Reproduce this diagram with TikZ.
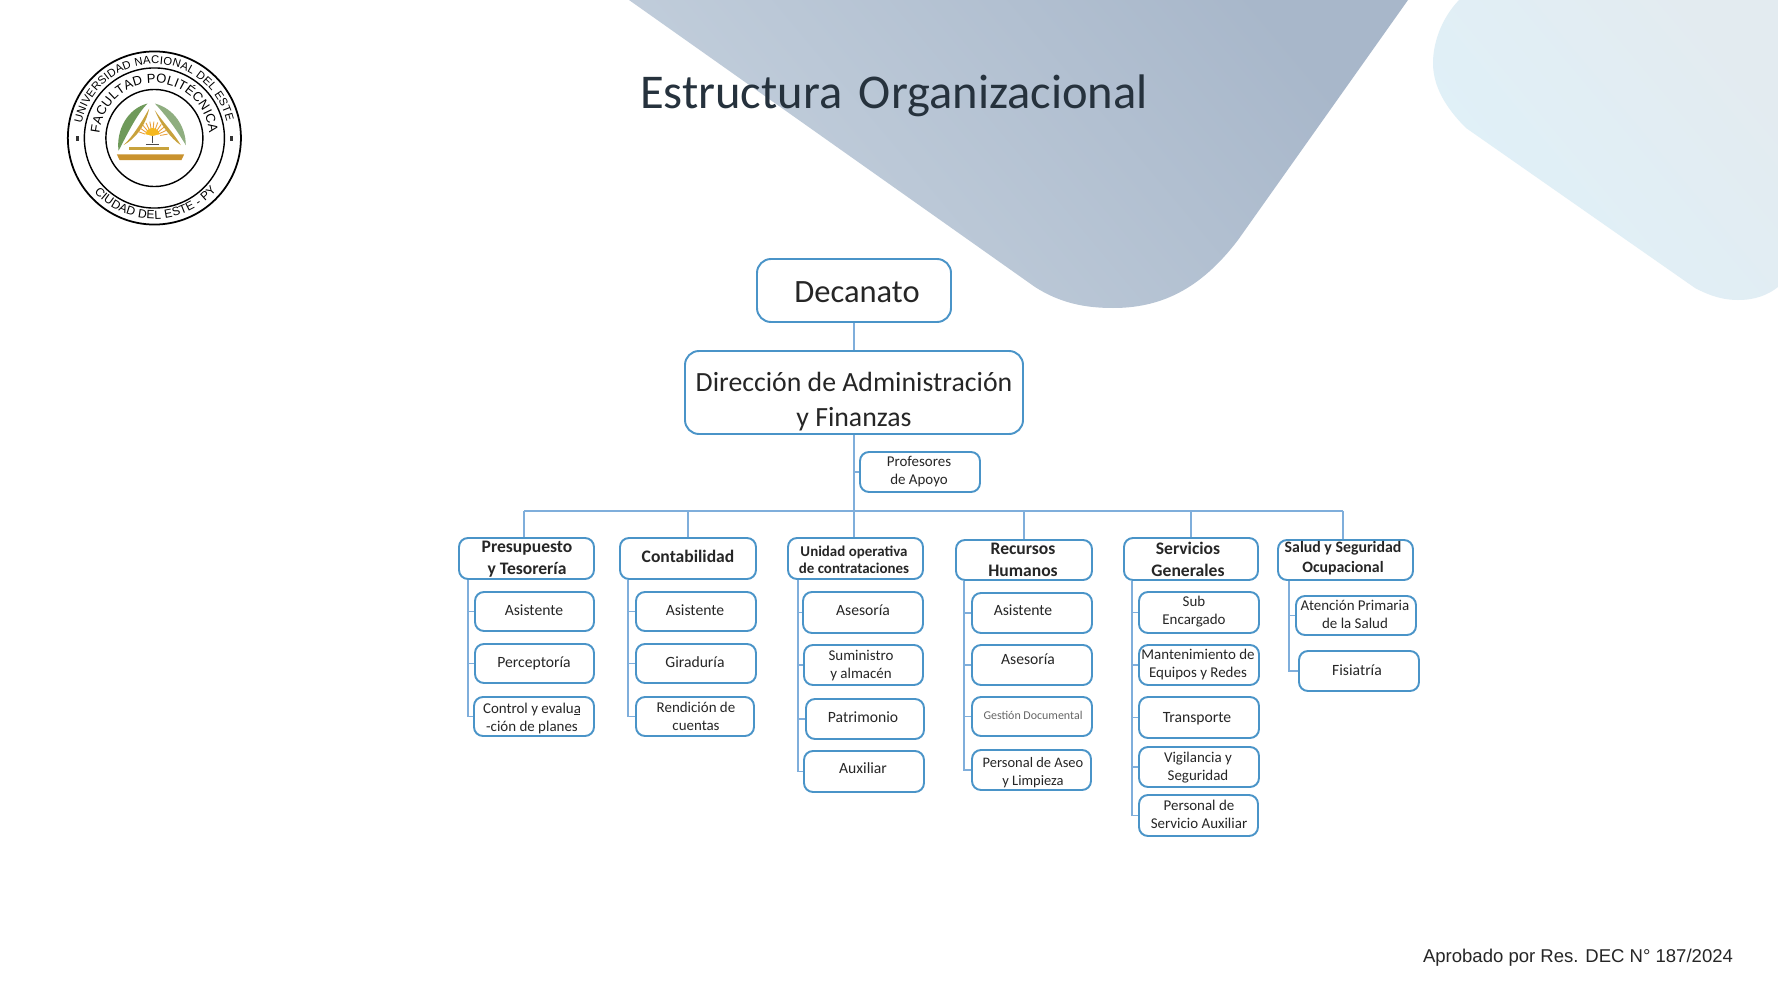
\documentclass[tikz,border=0pt]{standalone}
\usepackage{fontspec}
\setmainfont{Carlito}
\newfontfamily\arialf{Liberation Sans}
\usetikzlibrary{calc,decorations.text}
\definecolor{bord}{HTML}{4A94C8}
\definecolor{conn}{HTML}{7FAEDB}
\definecolor{ink}{HTML}{262626}
\definecolor{BGA}{HTML}{A8B7CA}
\definecolor{BGB}{HTML}{C4D0DD}
\definecolor{LBA}{HTML}{E3EBF0}
\definecolor{LBB}{HTML}{DFF1F9}
\definecolor{TT}{HTML}{26323D}
\definecolor{LFA}{HTML}{6F9A5A}
\definecolor{LFB}{HTML}{8FAE80}
\definecolor{GD}{HTML}{C8A23C}
\definecolor{GDB}{HTML}{C9922E}
\definecolor{ORG}{HTML}{E9A03A}
\definecolor{SU}{HTML}{F5B81F}
\newcommand{\fsz}[2]{\fontsize{#1}{#2}\selectfont}
\newcommand{\logoA}{\arialf\fsz{3.2}{4}}
\newcommand{\logoB}{\arialf\fsz{3.7}{5}}
\newcommand{\logoC}{\arialf\fsz{3.4}{4}}
\tikzset{
  boxs/.style={draw=bord,line width=0.55pt,rounded corners=0.09cm,fill=white,inner sep=0pt},
  txt/.style={inner sep=0pt,align=center,text=ink},
  small/.style={txt,yshift=-0.55pt,font=\fsz{4.25}{4.95}},
  smallw/.style={txt,yshift=-0.55pt,font=\fsz{4.45}{4.95}},
  head/.style={txt,yshift=-0.6pt,font=\bfseries\fsz{5}{6.2}},
  headb/.style={txt,yshift=-0.4pt,font=\bfseries\fsz{4.25}{4.95}},
  wire/.style={draw=conn,line width=0.5pt},
}
% name, x1,y1,x2,y2, text x, text y, text style, text
\newcommand{\bx}[9]{%
  \pgfmathsetmacro\bw{(#4-#2)*0.01}\pgfmathsetmacro\bh{(#5-#3)*0.01}%
  \node[boxs,minimum width=\bw cm,minimum height=\bh cm] (#1) at ({(#2+#4)/2},{(#3+#5)/2}) {};
  \node[#8] (#1-t) at (#6,#7) {#9};
}
\begin{document}
\begin{tikzpicture}[x=0.01cm,y=-0.01cm]
\useasboundingbox (0,0) rectangle (1778,1000);
\fill[white] (0,0) rectangle (1778,1000);
% background shapes
\shade[top color=BGA,bottom color=BGB,shading angle=-50] (629,0) -- (1408,0) -- (1238,240) .. controls (1200,290) and (1160,308) .. (1113,308) .. controls (1085,308) and (1060,303) .. (1035,287) -- cycle;
\shade[top color=LBA,bottom color=LBB,shading angle=-50] (1459,0) .. controls (1440,20) and (1433,45) .. (1433,63) .. controls (1433,90) and (1450,112) .. (1466,128) -- (1695,288) .. controls (1712,297) and (1725,300) .. (1738,300) .. controls (1755,300) and (1768,295) .. (1778,287) -- (1778,0) -- cycle;
% title
\node[inner sep=0pt,text=TT,font=\fsz{13.8}{16}] (title) at (894,96) {Estructura\hspace{1.6pt} Organizacional};
% logo
\begin{scope}[shift={(154.4,138)},x=1cm,y=1cm]
  \draw[black,line width=0.5pt] (0,0) circle (0.865);
  \draw[black,line width=0.4pt] (0,0) circle (0.70);
  \draw[black,line width=0.4pt] (0,0) circle (0.485);
  \fill[black!80] (-0.785,-0.025) rectangle (-0.755,0.025);
  \fill[black!80] (0.755,-0.025) rectangle (0.785,0.025);
  \path[decorate,decoration={text along path,text align=fit to path,text={|\logoA|UNIVERSIDAD NACIONAL DEL ESTE}}] (169:0.74) arc[start angle=169,end angle=13,radius=0.74];
  \path[decorate,decoration={text along path,text align=fit to path,text={|\logoB|FACULTAD POLITÉCNICA}}] (175:0.55) arc[start angle=175,end angle=5,radius=0.55];
  \path[decorate,decoration={text along path,text align=fit to path,text={|\logoC|CIUDAD DEL ESTE - PY}}] (222:0.81) arc[start angle=222,end angle=320,radius=0.81];
\end{scope}
\begin{scope}[shift={(37.7,30.3)},x=0.003333cm,y=-0.003333cm]
  \fill[LFA] (243,362) .. controls (235,300) and (270,235) .. (330,220) .. controls (300,250) and (275,300) .. (243,362) -- cycle;
  \fill[LFB] (445,345) .. controls (445,290) and (410,235) .. (352,220) .. controls (385,255) and (415,295) .. (445,345) -- cycle;
  \fill[GD] (258,345) .. controls (285,320) and (310,280) .. (335,235) .. controls (325,285) and (295,325) .. (258,345) -- cycle;
  \fill[GD] (430,345) .. controls (400,325) and (370,285) .. (352,240) .. controls (375,275) and (410,310) .. (430,345) -- cycle;
  \foreach \a in {10,25,...,170} \draw[ORG,line width=0.25pt] (345,320) -- ++({46*cos(\a)},{-46*sin(\a)});
  \fill[SU] (322,320) .. controls (322,285) and (368,285) .. (368,320) -- cycle;
  \fill[white] (322,312) -- (345,318) -- (368,312) -- (368,340) -- (322,340) -- cycle;
  \draw[black!70,line width=0.3pt] (345,318) -- (345,340) (325,342) -- (365,342);
  \fill[GD] (275,352) rectangle (395,361);
  \fill[GDB] (238,373) -- (440,373) -- (432,390) -- (246,390) -- cycle;
\end{scope}
% main boxes
\begin{scope}[boxs/.append style={rounded corners=0.14cm}]
\bx{dec}{757}{259}{951}{322}{857}{292}{txt,font=\fsz{9.25}{11}}{Decanato}
\bx{dir}{685}{351}{1023}{434}{854}{402}{txt,font=\fsz{7.9}{10}}{\strut Dirección de Administración\\\strut y Finanzas}
\end{scope}
\bx{pro}{860}{452}{980}{492}{919}{470}{small}{\strut Profesores\\\strut de Apoyo}
% heads
\bx{pre}{459}{538}{594}{579}{527}{557}{head}{\strut Presupuesto\\\strut y Tesorería}
\bx{con}{620}{538}{756}{579}{688}{556}{head}{\strut Contabilidad}
\bx{uni}{788}{538}{923}{579}{854}{560}{headb}{\strut Unidad operativa\\\strut de contrataciones}
\bx{rec}{956}{540}{1092}{580}{1023}{559}{head}{\strut Recursos\\\strut Humanos}
\bx{ser}{1124}{538}{1258}{580}{1188}{559}{head}{\strut Servicios\\\strut Generales}
\bx{sal}{1278}{540}{1413}{580}{1343}{557}{txt,yshift=-0.4pt,font=\bfseries\fsz{4.5}{5.7}}{\strut Salud y Seguridad\\\strut Ocupacional}
% presupuesto
\bx{pa}{475}{592}{594}{631}{534}{610}{smallw}{\strut Asistente}
\bx{pb}{475}{644}{594}{683}{534}{662}{smallw}{\strut Perceptoría}
\bx{pc}{474}{697}{594}{736}{532}{717}{small}{\strut Control y evalu\rlap{\rule[-0.35pt]{1.9pt}{0.25pt}}a\\\strut -ción de planes}
% contabilidad
\bx{ca}{636}{592}{756}{631}{695}{610}{smallw}{\strut Asistente}
\bx{cb}{636}{644}{756}{683}{695}{662}{smallw}{\strut Giraduría}
\bx{cc}{636}{697}{754}{736}{696}{716}{small}{\strut Rendición de\\\strut cuentas}
% unidad
\bx{ua}{803}{592}{923}{633}{863}{610}{smallw}{\strut Asesoría}
\bx{ub}{804}{645}{923}{685}{861}{664}{small}{\strut Suministro\\\strut y almacén}
\bx{uc}{806}{699}{924}{739}{863}{717}{smallw}{\strut Patrimonio}
\bx{ud}{804}{751}{924}{792}{863}{768}{smallw}{\strut Auxiliar}
% recursos
\bx{ra}{972}{593}{1092}{633}{1023}{610}{smallw}{\strut Asistente}
\bx{rb}{972}{645}{1092}{685}{1028}{659}{smallw}{\strut Asesoría}
\bx{rc}{972}{697}{1092}{736}{1033}{716}{txt,text=black!60,font=\fsz{3.4}{4.5}}{\strut Gestión Documental}
\bx{rd}{972}{750}{1091}{790}{1033}{771}{txt,yshift=-0.55pt,font=\fsz{4.12}{4.95}}{\strut Personal de Aseo\\\strut y Limpieza}
% servicios
\bx{sa}{1139}{592}{1259}{633}{1194}{610}{small}{\strut Sub\\\strut Encargado}
\bx{sb}{1139}{645}{1259}{685}{1198}{663}{small}{\strut Mantenimiento de\\\strut Equipos y Redes}
\bx{sc}{1139}{697}{1259}{738}{1197}{717}{smallw}{\strut Transporte}
\bx{sd}{1139}{747}{1259}{787}{1198}{766}{small}{\strut Vigilancia y\\\strut Seguridad}
\bx{se}{1139}{795}{1258}{836}{1199}{814}{small}{\strut Personal de\\\strut Servicio Auxiliar}
% salud
\bx{ha}{1296}{596}{1416}{635}{1355}{614}{small}{\strut Atención Primaria\\\strut de la Salud}
\bx{hb}{1299}{651}{1419}{691}{1357}{670}{smallw}{\strut Fisiatría}
% connectors
\coordinate (bl) at (524,511);
\coordinate (br) at (1343,511);
\coordinate (dc) at (688,511);
\coordinate (dr) at (1024,511);
\coordinate (ds) at (1191,511);
\draw[wire] (dir.north |- dec.south) -- (dir.north);
\draw[wire] (dir.south) -- (dir.south |- uni.north);
\draw[wire] (dir.south |- pro.west) -- (pro.west);
\draw[wire] (bl) -- (br);
\draw[wire] (bl) -- (bl |- pre.north);
\draw[wire] (dc) -- (dc |- con.north);
\draw[wire] (dr) -- (dr |- rec.north);
\draw[wire] (ds) -- (ds |- ser.north);
\draw[wire] (br) -- (br |- sal.north);
\foreach \c in {pa,pb,pc} \draw[wire] ($(pre.south west)+(10,0)$) |- (\c.west);
\foreach \c in {ca,cb,cc} \draw[wire] ($(con.south west)+(9,0)$) |- (\c.west);
\foreach \c in {ua,ub,uc,ud} \draw[wire] ($(uni.south west)+(11,0)$) |- (\c.west);
\foreach \c in {ra,rb,rc,rd} \draw[wire] ($(rec.south west)+(9,0)$) |- (\c.west);
\foreach \c in {sa,sb,sc,sd,se} \draw[wire] ($(ser.south west)+(9,0)$) |- (\c.west);
\foreach \c in {ha,hb} \draw[wire] ($(sal.south west)+(12,0)$) |- (\c.west);
\node[inner sep=0pt,text=black!85,font=\arialf\fsz{5.27}{7}] (foot) at (1578,958) {Aprobado por Res. DEC N° 187/2024};
\end{tikzpicture}
\end{document}
